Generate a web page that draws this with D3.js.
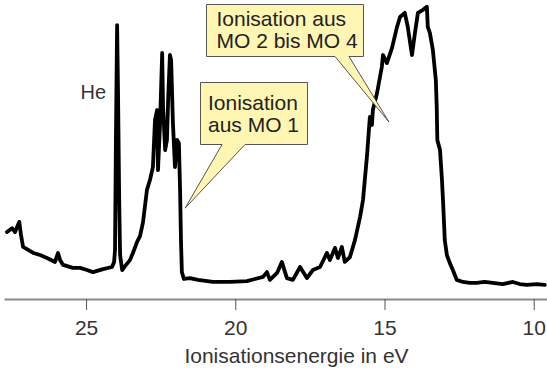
<!DOCTYPE html>
<html>
<head>
<meta charset="utf-8">
<script src="https://cdn.jsdelivr.net/npm/d3@7"></script>
<style>
  html, body { margin: 0; padding: 0; background: #fff; }
  svg { display: block; }
  text { font-family: "Liberation Sans", Arial, sans-serif; }
</style>
</head>
<body>
<svg id="chart" width="547" height="371"></svg>
<script>
// Ionisation energy (eV) and relative intensity
const energies = [27.65,27.48,27.38,27.24,27.18,27.11,26.94,26.77,26.54,26.31,26.04,25.94,25.87,25.77,25.44,25.20,24.97,24.77,24.43,24.13,24.06,24.03,24.00,23.96,23.93,23.89,23.86,23.79,23.66,23.53,23.43,23.29,23.19,23.09,22.96,22.86,22.76,22.69,22.62,22.59,22.52,22.45,22.42,22.35,22.29,22.25,22.19,22.15,22.09,22.02,21.95,21.89,21.85,21.82,21.79,21.72,21.52,21.25,20.75,20.18,19.61,19.34,19.07,18.94,18.84,18.60,18.44,18.27,18.07,17.83,17.60,17.40,17.16,16.93,16.83,16.66,16.56,16.43,16.33,16.16,15.99,15.82,15.72,15.66,15.59,15.49,15.42,15.39,15.25,15.09,15.05,14.92,14.75,14.58,14.48,14.32,14.22,14.08,13.98,13.88,13.71,13.58,13.55,13.48,13.38,13.28,13.25,13.23,13.14,13.08,13.04,12.98,12.91,12.81,12.71,12.58,12.37,12.14,11.91,11.64,11.37,11.04,10.70,10.47,10.23,9.90,9.63];
const intensities = [22.4,23.7,22.4,25.8,21.4,17.4,16.4,15.4,14.7,13.7,12.4,15.4,13.0,11.4,10.4,10.4,9.7,9.0,10.0,10.7,12.4,16.4,53.2,91.6,69.9,33.1,14.7,9.7,11.4,13.0,15.4,19.1,21.1,25.8,36.5,39.8,44.1,59.9,63.2,43.1,58.9,82.3,64.2,49.8,53.2,66.6,81.6,79.9,58.9,44.1,53.2,52.2,36.5,19.7,9.0,6.7,7.0,6.4,5.7,5.7,6.0,6.7,7.4,9.0,6.4,8.7,12.4,7.0,6.4,10.7,7.0,9.7,10.7,15.4,13.0,17.1,13.7,17.4,12.4,14.0,19.7,27.4,33.1,39.8,47.5,60.9,58.2,63.2,68.9,77.6,81.6,78.9,83.9,91.0,94.3,95.7,91.0,81.6,89.0,95.7,96.7,97.7,91.0,89.0,83.3,73.2,64.2,53.2,49.8,40.8,33.1,19.7,14.7,12.0,9.7,6.4,5.7,5.4,5.4,5.7,5.4,5.0,5.7,5.0,4.7,5.0,4.7];
const tickValues = [25, 20, 15, 10];
const axisTitle = "Ionisationsenergie in eV";
const peakLabel = "He";
const calloutLines = [["Ionisation aus", "MO 2 bis MO 4"], ["Ionisation", "aus MO 1"]];
const calloutTargetsE = [14.85, 21.68];
const calloutTargetsI = [59.2, 30.4];

const svg = d3.select("#chart");
const x = d3.scaleLinear().domain([27.75, 9.555]).range([4, 547]);
const y = d3.scaleLinear().domain([0, 100]).range([299, 0]);

// spectrum
const pts = energies.map((e, i) => [e, intensities[i]]);
svg.append("path")
  .datum(pts)
  .attr("fill", "none")
  .attr("stroke", "#000")
  .attr("stroke-width", 3.8)
  .attr("stroke-linejoin", "round")
  .attr("stroke-linecap", "round")
  .attr("d", d3.line().x(d => x(d[0])).y(d => y(d[1])));

// axis
const ax = svg.append("g").attr("transform", "translate(0,299)")
  .call(d3.axisBottom(x).tickValues(tickValues).tickSize(11).tickSizeOuter(0).tickFormat(d3.format("d")));
ax.select(".domain").attr("stroke", "#8a8a8a").attr("stroke-width", 2);
ax.selectAll(".tick line").attr("stroke", "#555").attr("stroke-width", 1);
ax.selectAll(".tick text")
  .attr("dy", null).attr("y", 36)
  .attr("fill", "#333")
  .style("font-size", "21px")
  .style("font-family", "'Liberation Sans', Arial, sans-serif");

svg.append("text")
  .attr("x", 296.5).attr("y", 363)
  .attr("text-anchor", "middle")
  .attr("fill", "#333")
  .style("font-size", "21px")
  .text(axisTitle);

svg.append("text")
  .attr("x", 80.5).attr("y", 99)
  .attr("fill", "#333")
  .style("font-size", "20px")
  .text(peakLabel);

// callouts
const boxes = [
  {x0: 206.5, y0: 4.5, x1: 363.5, y1: 56.5, b0: 335, b1: 349, tx: 216.5, ty: [26, 48]},
  {x0: 200.5, y0: 82.5, x1: 307.5, y1: 144.5, b0: 222, b1: 245, tx: 208, ty: [110, 132]}
];
boxes.forEach((b, i) => {
  const tx = x(calloutTargetsE[i]), ty = y(calloutTargetsI[i]);
  const p = d3.path();
  p.moveTo(b.x0, b.y0);
  p.lineTo(b.x1, b.y0);
  p.lineTo(b.x1, b.y1);
  p.lineTo(b.b1, b.y1);
  p.lineTo(tx, ty);
  p.lineTo(b.b0, b.y1);
  p.lineTo(b.x0, b.y1);
  p.closePath();
  svg.append("path").attr("d", p.toString())
    .attr("fill", "#fff6b3")
    .attr("stroke", "#555")
    .attr("stroke-width", 1)
    .attr("stroke-linejoin", "miter");
  calloutLines[i].forEach((line, j) => {
    svg.append("text")
      .attr("x", b.tx).attr("y", b.ty[j])
      .attr("fill", "#222")
      .style("font-size", "21px")
      .text(line);
  });
});
</script>
</body>
</html>
